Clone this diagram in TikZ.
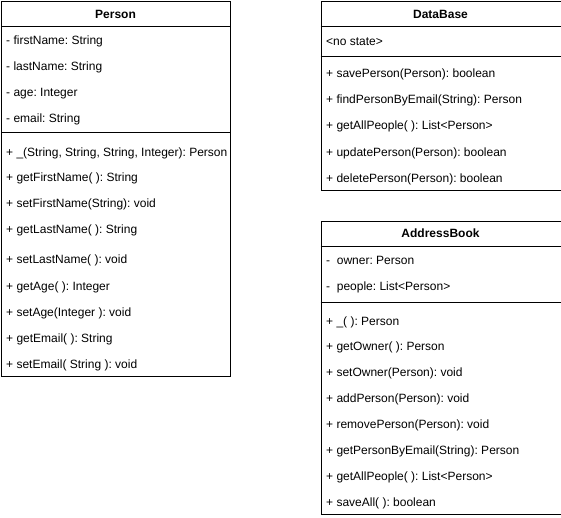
\documentclass[tikz,border=0pt]{standalone}
\usepackage{fontspec}
\setmainfont{Liberation Sans}
\frenchspacing
\begin{document}
\begin{tikzpicture}[x=1pt,y=-1pt,
  boxline/.style={draw=black,line width=1pt},
  row/.style={anchor=base west,inner sep=0pt,font=\fontsize{12}{14}\selectfont},
  title/.style={anchor=base,inner sep=0pt,font=\fontsize{12}{14}\selectfont\bfseries}]
\useasboundingbox (0,0) rectangle (561,518);
% Person
\node[boxline,rectangle,minimum width=229pt,minimum height=375pt,anchor=north west,inner sep=0pt] (person) at (1,1) {};
\draw[boxline] (1,26.5) -- (230,26.5);
\draw[boxline] (1,133) -- (230,133);
\node[title] (ptitle) at (115.5,18.5) {Person};
\node[row] (p1) at (6,44.5) {- firstName: String};
\node[row] (p2) at (6,70.5) {- lastName: String};
\node[row] (p3) at (6,96.5) {- age: Integer};
\node[row] (p4) at (6,122.5) {- email: String};
\node[row] (m1) at (6,156.5) {+ \_(String, String, String, Integer): Person};
\node[row] (m2) at (6,181.5) {+ getFirstName( ): String};
\node[row] (m3) at (6,207.5) {+ setFirstName(String): void};
\node[row] (m4) at (6,233.5) {+ getLastName( ): String};
\node[row] (m5) at (6,263.5) {+ setLastName( ): void};
\node[row] (m6) at (6,290.5) {+ getAge( ): Integer};
\node[row] (m7) at (6,316.5) {+ setAge(Integer ): void};
\node[row] (m8) at (6,342.5) {+ getEmail( ): String};
\node[row] (m9) at (6,368.5) {+ setEmail( String ): void};
% DataBase
\node[boxline,rectangle,minimum width=240pt,minimum height=189pt,anchor=north west,inner sep=0pt] (db) at (320.5,1) {};
\draw[boxline] (320.5,26.5) -- (560.5,26.5);
\draw[boxline] (320.5,56.5) -- (560.5,56.5);
\node[title] (dtitle) at (440.5,18.5) {DataBase};
\node[row] (d0) at (326,45.5) {<no state>};
\node[row] (d1) at (326,77.5) {+ savePerson(Person): boolean};
\node[row] (d2) at (326,103.5) {+ findPersonByEmail(String): Person};
\node[row] (d3) at (326,130) {+ getAllPeople( ): List<Person>};
\node[row] (d4) at (326,156.5) {+ updatePerson(Person): boolean};
\node[row] (d5) at (326,182.5) {+ deletePerson(Person): boolean};
% AddressBook
\node[boxline,rectangle,minimum width=240pt,minimum height=293pt,anchor=north west,inner sep=0pt] (ab) at (320.5,221) {};
\draw[boxline] (320.5,246.5) -- (560.5,246.5);
\draw[boxline] (320.5,302) -- (560.5,302);
\node[title] (atitle) at (440.5,238) {AddressBook};
\node[row] (a1) at (326,264.5) {-\ \ owner: Person};
\node[row] (a2) at (326,290.5) {-\ \ people: List<Person>};
\node[row] (b1) at (326,325) {+ \_( ): Person};
\node[row] (b2) at (326,350.5) {+ getOwner( ): Person};
\node[row] (b3) at (326,376.5) {+ setOwner(Person): void};
\node[row] (b4) at (326,402.5) {+ addPerson(Person): void};
\node[row] (b5) at (326,428.5) {+ removePerson(Person): void};
\node[row] (b6) at (326,454.5) {+ getPersonByEmail(String): Person};
\node[row] (b7) at (326,480.5) {+ getAllPeople( ): List<Person>};
\node[row] (b8) at (326,506.5) {+ saveAll( ): boolean};
\end{tikzpicture}
\end{document}
